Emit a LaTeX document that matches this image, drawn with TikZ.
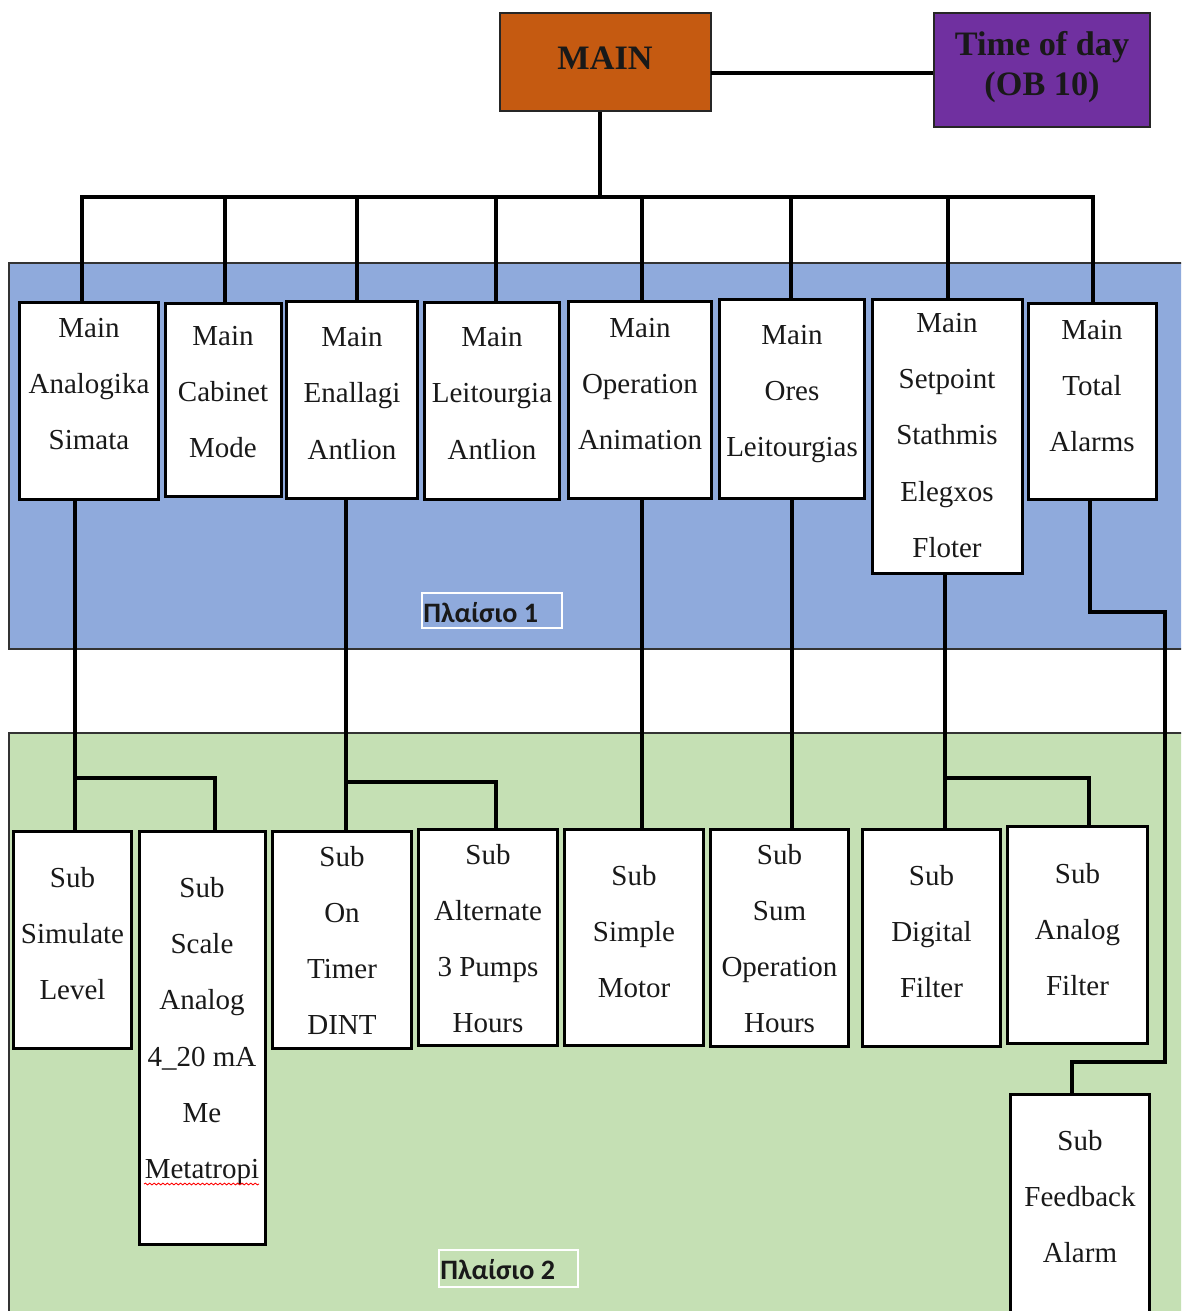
\documentclass[tikz,border=0pt]{standalone}
\usepackage{fontspec}
\setmainfont{Liberation Serif}
\newfontfamily\tagfont{Carlito}
\usetikzlibrary{fit,decorations.pathmorphing}

\definecolor{panelblue}{HTML}{8FAADC}
\definecolor{panelgreen}{HTML}{C5E0B4}
\definecolor{mainorange}{HTML}{C55A11}
\definecolor{obpurple}{HTML}{7030A0}

\begin{document}
\begin{tikzpicture}[x=0.02cm,y=-0.02cm,
  box/.style={draw=black, line width=1.1pt, fill=white, inner sep=0pt},
  topbox/.style={draw=black!85, line width=1.1pt, inner sep=0pt},
  conn/.style={draw=black, line width=2.2pt, line join=miter},
  txt/.style={align=center, font=\fontsize{16.5}{31.9}\selectfont, text=black!90, inner sep=0pt},
  toptxt/.style={align=center, font=\bfseries\fontsize{19.5}{22.8}\selectfont, text=black!90, inner sep=0pt},
  panel/.style={draw=black!80, line width=0.9pt},
  tagbox/.style={draw=white, line width=1pt, inner sep=0pt},
  tagtxt/.style={font=\tagfont\bfseries\fontsize{16}{19}\selectfont, text=black!90, inner sep=0pt}]

\useasboundingbox (0,0) rectangle (1181,1311);
\clip (0,0) rectangle (1181,1311);
\fill[white] (0,0) rectangle (1181,1311);

% background panels
\path[panel, fill=panelblue] (9,263) rectangle (1195,649);
\path[panel, fill=panelgreen] (9,733) rectangle (1195,1330);

% top level blocks
\node[topbox, fill=mainorange, fit={(500,13) (711,111)}] (main) {};
\node[toptxt] (maint) at (605,58) {MAIN};
\node[topbox, fill=obpurple, fit={(934,13) (1150,127)}] (tod) {};
\node[toptxt] (todt) at (1042,67) {Time of day\\(OB 10)};

% main routines (frame 1)
\node[box, fit={(20,303) (158,499)}] (m1) {};
\node[box, fit={(166,304) (281,496)}] (m2) {};
\node[box, fit={(287,302) (417,498)}] (m3) {};
\node[box, fit={(425,303) (559,499)}] (m4) {};
\node[box, fit={(569,302) (711,498)}] (m5) {};
\node[box, fit={(720,300) (864,498)}] (m6) {};
\node[box, fit={(873,300) (1022,573)}] (m7) {};
\node[box, fit={(1029,304) (1156,499)}] (m8) {};

% subroutines (frame 2)
\node[box, fit={(14,832) (131,1048)}] (s1) {};
\node[box, fit={(140,832) (265,1244)}] (s2) {};
\node[box, fit={(273,832) (411,1048)}] (s3) {};
\node[box, fit={(419,830) (557,1045)}] (s4) {};
\node[box, fit={(565,830) (703,1045)}] (s5) {};
\node[box, fit={(711,830) (848,1046)}] (s6) {};
\node[box, fit={(863,830) (1000,1046)}] (s7) {};
\node[box, fit={(1008,827) (1147,1043)}] (s8) {};
\node[box, fit={(1011,1095) (1149,1340)}] (s9) {};

% connectors: MAIN to Time of day
\coordinate (hm) at (711,73);
\draw[conn] (hm) -- (hm -| tod.west);

% connectors: MAIN to the bus and the main routines
\coordinate (bm) at (600,197);
\draw[conn] (bm |- main.south) -- (bm);
\coordinate (t1) at (82,197);
\coordinate (t2) at (225,197);
\coordinate (t3) at (357,197);
\coordinate (t4) at (496,197);
\coordinate (t5) at (642,197);
\coordinate (t6) at (791,197);
\coordinate (t7) at (948,197);
\coordinate (t8) at (1093,197);
\draw[conn] (t1 |- m1.north) -- (t1) -- (t8) -- (t8 |- m8.north);
\draw[conn] (t2) -- (t2 |- m2.north);
\draw[conn] (t3) -- (t3 |- m3.north);
\draw[conn] (t4) -- (t4 |- m4.north);
\draw[conn] (t5) -- (t5 |- m5.north);
\draw[conn] (t6) -- (t6 |- m6.north);
\draw[conn] (t7) -- (t7 |- m7.north);

% connectors: main routines to subroutines
\coordinate (j1) at (75,778);
\coordinate (k1) at (215,778);
\draw[conn] (j1 |- m1.south) -- (j1 |- s1.north);
\draw[conn] (j1) -- (k1) -- (k1 |- s2.north);

\coordinate (j3) at (346,782);
\coordinate (k3) at (496,782);
\draw[conn] (j3 |- m3.south) -- (j3 |- s3.north);
\draw[conn] (j3) -- (k3) -- (k3 |- s4.north);

\coordinate (j5) at (642,700);
\draw[conn] (j5 |- m5.south) -- (j5 |- s5.north);

\coordinate (j6) at (792,700);
\draw[conn] (j6 |- m6.south) -- (j6 |- s6.north);

\coordinate (j7) at (945,778);
\coordinate (k7) at (1089,778);
\draw[conn] (j7 |- m7.south) -- (j7 |- s7.north);
\draw[conn] (j7) -- (k7) -- (k7 |- s8.north);

\coordinate (j8) at (1090,612);
\coordinate (k8) at (1165,612);
\coordinate (l8) at (1165,1062);
\coordinate (n8) at (1072,1062);
\draw[conn] (j8 |- m8.south) -- (j8) -- (k8) -- (l8) -- (n8) -- (n8 |- s9.north);

% redraw box outlines above the connectors
\foreach \n in {m1,m2,m3,m4,m5,m6,m7,m8,s1,s2,s3,s4,s5,s6,s7,s8,s9}
  \draw[line width=1.1pt] (\n.north west) rectangle (\n.south east);

% texts of the main routines
\node[txt] (m1t) at (89,384) {Main\\Analogika\\Simata};
\node[txt] (m2t) at (223,392) {Main\\Cabinet\\Mode};
\node[txt] (m3t) at (352,393.5) {Main\\Enallagi\\Antlion};
\node[txt] (m4t) at (492,393.5) {Main\\Leitourgia\\Antlion};
\node[txt] (m5t) at (640,384) {Main\\Operation\\Animation};
\node[txt] (m6t) at (792,394) {Main\\Ores\\Leitourgias};
\node[txt] (m7t) at (947,435.5) {Main\\Setpoint\\Stathmis\\Elegxos\\Floter};
\node[txt] (m8t) at (1092,386) {Main\\Total\\Alarms};

% texts of the subroutines
\node[txt] (s1t) at (72.5,934) {Sub\\Simulate\\Level};
\node[txt] (s2t) at (202,1031) {Sub\\Scale\\Analog\\4\_20 mA\\Me\\Metatropi};
\node[txt] (s3t) at (342,940.5) {Sub\\On\\Timer\\DINT};
\node[txt] (s4t) at (488,938.6) {Sub\\Alternate\\3 Pumps\\Hours};
\node[txt] (s5t) at (634,932) {Sub\\Simple\\Motor};
\node[txt] (s6t) at (779.5,938.6) {Sub\\Sum\\Operation\\Hours};
\node[txt] (s7t) at (931.5,932) {Sub\\Digital\\Filter};
\node[txt] (s8t) at (1077.5,930) {Sub\\Analog\\Filter};
\node[txt] (s9t) at (1080,1196.5) {Sub\\Feedback\\Alarm};

% spell-check squiggle
\draw[red, line width=0.5pt, decorate, decoration={snake, amplitude=0.5pt, segment length=2.5pt}] (144,1184) -- (259,1184);

% frame labels
\node[tagbox, fit={(422,593) (562,628)}] (p1) {};
\node[tagtxt, anchor=west] (p1t) at (423,613) {Πλαίσιο 1};
\node[tagbox, fit={(439,1250) (578,1287)}] (p2) {};
\node[tagtxt, anchor=west] (p2t) at (440,1270) {Πλαίσιο 2};
\end{tikzpicture}
\end{document}
